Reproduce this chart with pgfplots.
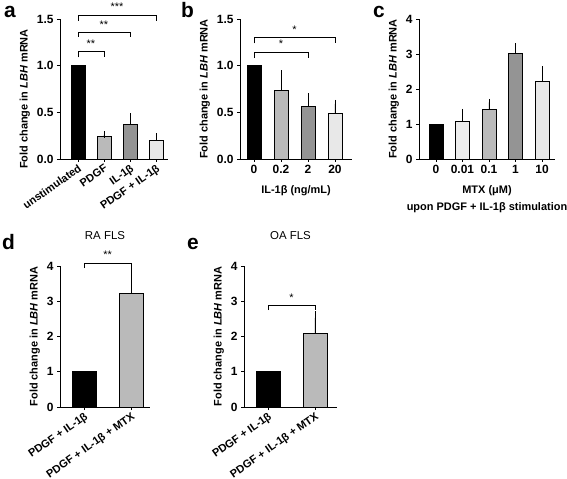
\documentclass[border=0pt]{standalone}
\usepackage{pgfplots}
\pgfplotsset{compat=1.18}
\usepackage{fontspec}
\setmainfont{Liberation Sans}
\pgfplotsset{
  gp/.style={
    scale only axis, anchor=south west,
    axis lines=left, axis line style={-, line width=0.8bp, black},
    ymin=0, ybar, bar shift=0pt,
    tick align=outside, major tick length=3bp,
    tick style={line width=0.8bp, black},
    /pgf/number format/assume math mode=true,
    tick label style={font=\bfseries\fontsize{12}{14}\selectfont},
    label style={font=\bfseries\fontsize{11}{13}\selectfont},
    ylabel={Fold change in \textit{LBH} mRNA},
    every axis plot/.append style={draw=black, line width=0.8bp},
    clip=false,
    error bars/y dir=plus, error bars/y explicit,
    error bars/error bar style={line width=0.8bp, black},
    title style={font=\fontsize{11.5}{13}\selectfont, at={(axis description cs:0.5,1)}, anchor=base, yshift=21bp},
  },
  rot/.style={xticklabel style={rotate=35, anchor=north east, inner sep=1bp, font=\bfseries\fontsize{11}{13}\selectfont}},
}
\tikzset{star/.style={font=\fontsize{11}{11}\selectfont, inner sep=0pt},
  letter/.style={anchor=base west, inner sep=0, font=\bfseries\fontsize{21}{21}\selectfont}}
\begin{document}
\begin{tikzpicture}
\useasboundingbox (0,0) rectangle (567bp,479bp);
% panel letters
\node[letter] at (4bp,461bp) {a};
\node[letter] at (181bp,461bp) {b};
\node[letter] at (373bp,461bp) {c};
\node[letter] at (2bp,229bp) {d};
\node[letter] at (187bp,229bp) {e};

% ---- a ----
\begin{axis}[gp, rot, at={(60bp,320bp)}, width=108bp, height=140bp,
  xmin=-0.69, xmax=3.46, ymax=1.5, bar width=14bp,
  xtick={0,1,2,3}, xticklabels={unstimulated, PDGF, IL-1β, PDGF + IL-1β},
  ytick={0,0.5,1,1.5},
  ylabel style={xshift=-10bp},
  yticklabel style={/pgf/number format/.cd, fixed, fixed zerofill, precision=1},
  error bars/error mark options={mark size=3.5bp, line width=0.8bp}]
\addplot[fill=black, error bars/y dir=none] coordinates {(0,1.0)};
\addplot[fill=black!27] coordinates {(1,0.24) +- (0,0.022)};
\addplot[fill=black!42] coordinates {(2,0.37) +- (0,0.08)};
\addplot[fill=black!9] coordinates {(3,0.20) +- (0,0.04)};
\draw[line width=0.8bp] (axis cs:0,1.09) |- (axis cs:1,1.157) -- (axis cs:1,1.09);
\node[star] at (axis cs:0.5,1.24) {**};
\draw[line width=0.8bp] (axis cs:0,1.31) |- (axis cs:2,1.36) -- (axis cs:2,1.31);
\node[star] at (axis cs:1,1.44) {**};
\draw[line width=0.8bp] (axis cs:0,1.48) |- (axis cs:3,1.54) -- (axis cs:3,1.48);
\node[star] at (axis cs:1.5,1.63) {***};
\end{axis}

% ---- b ----
\begin{axis}[gp, at={(240bp,320bp)}, width=112bp, height=140bp,
  xmin=-0.52, xmax=3.63, ymax=1.5, bar width=14bp,
  xtick={0,1,2,3}, xticklabels={0, 0.2, 2, 20},
  xlabel={IL-1β (ng/mL)},
  xlabel style={at={(axis description cs:0.5,0)}, anchor=north, inner sep=0pt, yshift=-26bp},
  ytick={0,0.5,1,1.5},
  yticklabel style={/pgf/number format/.cd, fixed, fixed zerofill, precision=1},
  error bars/error mark options={mark size=4bp, line width=0.8bp}]
\addplot[fill=black, error bars/y dir=none] coordinates {(0,1.0)};
\addplot[fill=black!27] coordinates {(1,0.73) +- (0,0.18)};
\addplot[fill=black!42] coordinates {(2,0.56) +- (0,0.10)};
\addplot[fill=black!9] coordinates {(3,0.49) +- (0,0.10)};
\draw[line width=0.8bp] (axis cs:0,1.08) |- (axis cs:2,1.146) -- (axis cs:2,1.08);
\node[star] at (axis cs:1,1.23) {*};
\draw[line width=0.8bp] (axis cs:0,1.24) |- (axis cs:3,1.30) -- (axis cs:3,1.24);
\node[star] at (axis cs:1.5,1.38) {*};
\end{axis}

% ---- c ----
\begin{axis}[gp, at={(419bp,320bp)}, width=136bp, height=140bp,
  xmin=-0.64, xmax=4.49, ymax=4, bar width=14bp,
  xtick={0,1,2,3,4}, xticklabels={0, 0.01, 0.1, 1, 10},
  xlabel={MTX (μM)\\upon PDGF + IL-1β stimulation},
  xlabel style={align=center, font=\bfseries\fontsize{11}{17}\selectfont,
    at={(axis description cs:0.5,0)}, anchor=north, inner sep=0pt, yshift=-26bp},
  ytick={0,1,2,3,4},
  error bars/error mark options={mark size=3.5bp, line width=0.8bp}]
\addplot[fill=black, error bars/y dir=none] coordinates {(0,1.0)};
\addplot[fill=black!7] coordinates {(1,1.07) +- (0,0.26)};
\addplot[fill=black!27] coordinates {(2,1.42) +- (0,0.20)};
\addplot[fill=black!42] coordinates {(3,3.02) +- (0,0.18)};
\addplot[fill=black!9] coordinates {(4,2.23) +- (0,0.32)};
\end{axis}

% ---- d ----
\begin{axis}[gp, rot, at={(60bp,72bp)}, width=90bp, height=141bp,
  xmin=-0.51, xmax=1.40, ymax=4, bar width=24bp,
  xtick={0,1}, xticklabels={PDGF + IL-1β, PDGF + IL-1β + MTX},
  ytick={0,1,2,3,4}, title={RA FLS},
  error bars/error mark options={mark size=7.5bp, line width=0.8bp}]
\addplot[fill=black, error bars/y dir=none] coordinates {(0,1.0)};
\addplot[fill=black!27] coordinates {(1,3.22) +- (0,0.55)};
\draw[line width=0.8bp] (axis cs:0,3.94) |- (axis cs:1,4.08) -- (axis cs:1,3.94);
\node[star] at (axis cs:0.5,4.31) {**};
\end{axis}

% ---- e ----
\begin{axis}[gp, rot, at={(244bp,72bp)}, width=93bp, height=141bp,
  xmin=-0.51, xmax=1.47, ymax=4, bar width=24bp,
  xtick={0,1}, xticklabels={PDGF + IL-1β, PDGF + IL-1β + MTX},
  ytick={0,1,2,3,4}, title={OA FLS},
  error bars/error mark options={mark size=6.5bp, line width=0.8bp}]
\addplot[fill=black, error bars/y dir=none] coordinates {(0,1.0)};
\addplot[fill=black!27] coordinates {(1,2.08) +- (0,0.45)};
\draw[line width=0.8bp] (axis cs:0,2.75) |- (axis cs:1,2.89) -- (axis cs:1,2.75);
\node[star] at (axis cs:0.5,3.09) {*};
\end{axis}
\end{tikzpicture}
\end{document}
